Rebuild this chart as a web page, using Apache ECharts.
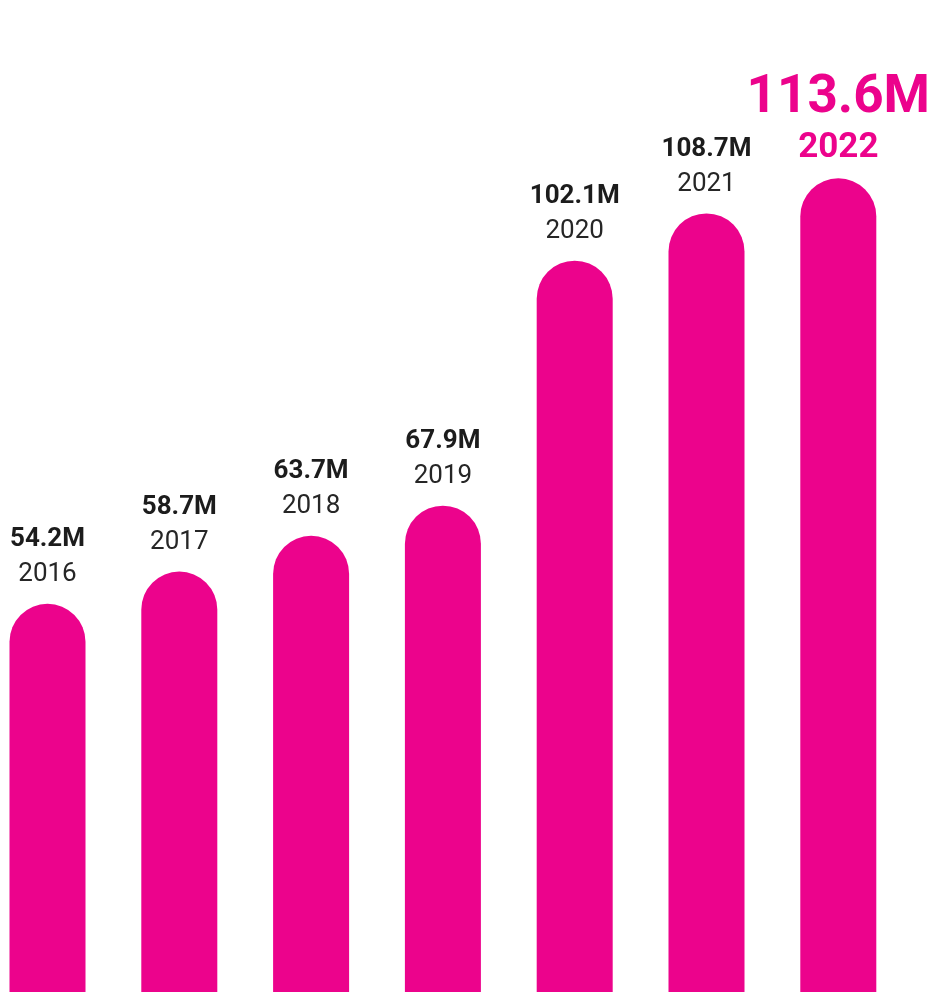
<!DOCTYPE html>
<html>
<head>
<meta charset="utf-8">
<script src="https://cdn.jsdelivr.net/npm/echarts@6/dist/echarts.min.js"></script>
<style>
html,body{margin:0;padding:0;background:#fff;}
#c{width:929px;height:992px;}
</style>
</head>
<body>
<div id="c"></div>
<script>
const years = ['2016','2017','2018','2019','2020','2021','2022'];
const values = [54.2, 58.7, 63.7, 67.9, 102.1, 108.7, 113.6];
const valueLabels = ['54.2M','58.7M','63.7M','67.9M','102.1M','108.7M','113.6M'];

const MAGENTA = '#EC038C';
const chart = echarts.init(document.getElementById('c'));
const lastIdx = values.length - 1;

chart.setOption({
  animation: false,
  grid: {left: -18.4, width: 922.6, top: 0, bottom: 0, outerBoundsMode: 'none', containLabel: false},
  xAxis: {
    type: 'category', data: years,
    axisLine: {show: false}, axisTick: {show: false}, axisLabel: {show: false}
  },
  yAxis: {
    type: 'value', min: 0, max: 138.5,
    show: false, splitLine: {show: false}
  },
  series: [{
    type: 'bar',
    barWidth: 76,
    data: values.map((v, i) => ({
      value: v,
      label: i === lastIdx ? {
        formatter: '{bv|' + valueLabels[i] + '}\n{by|' + years[i] + '}',
        distance: 8
      } : {
        formatter: '{v|' + valueLabels[i] + '}\n{y|' + years[i] + '}',
        distance: 12
      }
    })),
    itemStyle: {color: MAGENTA, borderRadius: [38, 38, 0, 0]},
    label: {
      show: true,
      position: 'top',
      fontFamily: 'Roboto',
      rich: {
        v: {fontFamily: 'Roboto', fontSize: 26, fontWeight: 'bold', color: '#1c1c1c', lineHeight: 36, align: 'center'},
        y: {fontFamily: 'Roboto', fontSize: 26, fontWeight: 'normal', color: '#262626', lineHeight: 34, align: 'center'},
        bv: {fontFamily: 'Roboto', fontSize: 53, fontWeight: 'bold', color: MAGENTA, lineHeight: 56, align: 'center'},
        by: {fontFamily: 'Roboto', fontSize: 35, fontWeight: 'bold', color: MAGENTA, lineHeight: 44, align: 'center'}
      }
    }
  }]
});
</script>
</body>
</html>
